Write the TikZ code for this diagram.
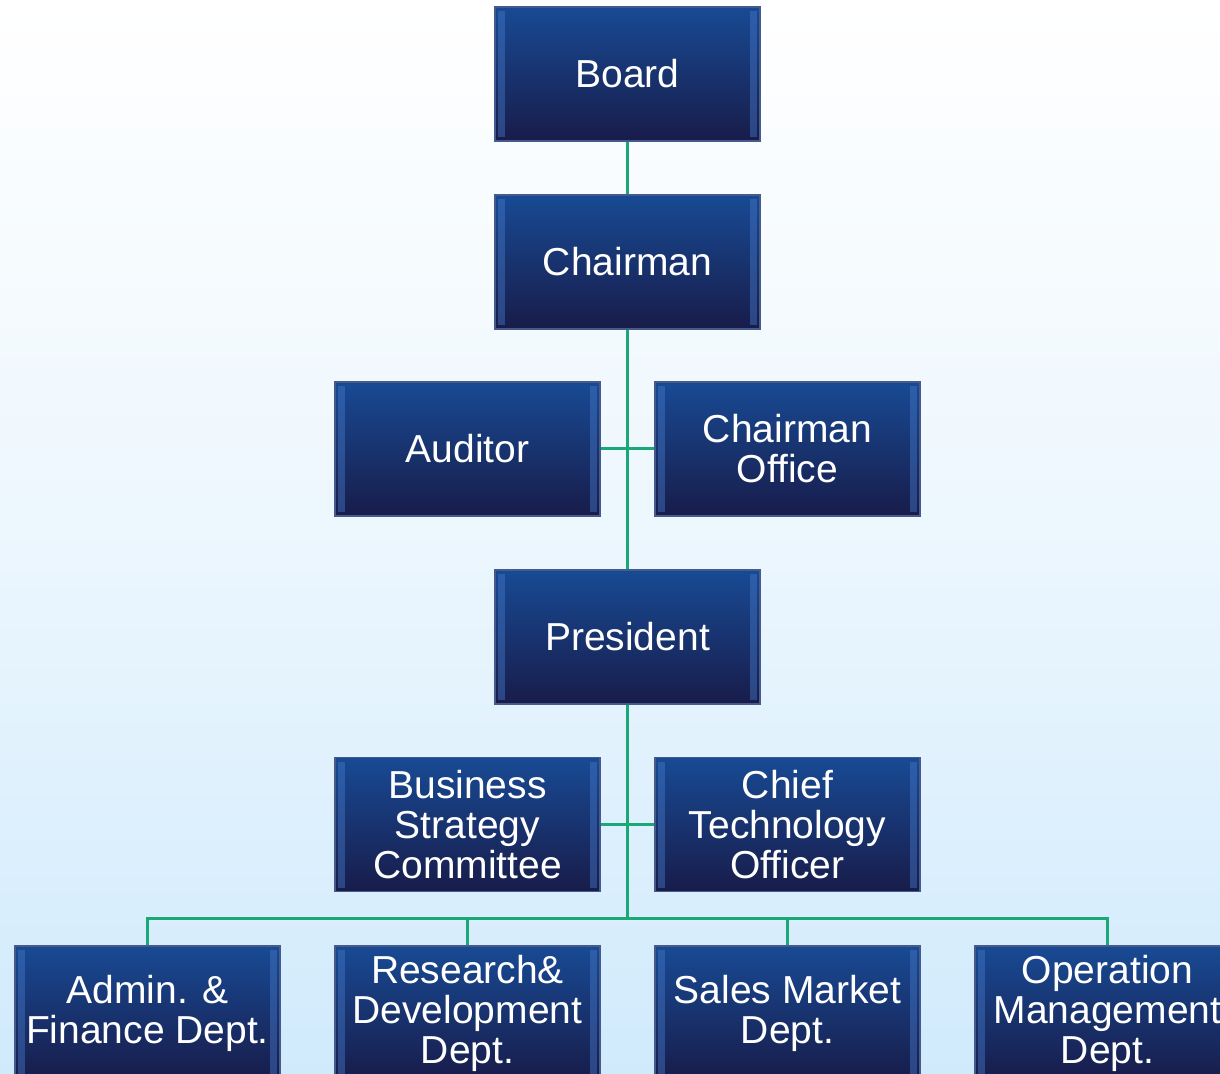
\documentclass[tikz,border=0pt]{standalone}
\usepackage{fontspec}
\setmainfont{Liberation Sans}
\usepackage{xcolor}
\definecolor{boxtop}{RGB}{24,74,148}
\definecolor{boxbot}{RGB}{24,28,74}
\definecolor{boxedge}{RGB}{70,90,140}
\definecolor{bevel}{RGB}{70,120,200}
\definecolor{linkgreen}{RGB}{28,168,118}
\definecolor{bgtop}{RGB}{255,255,255}
\definecolor{bgbot}{RGB}{208,234,252}

\begin{document}
\begin{tikzpicture}[x=0.5pt,y=-0.5pt]
  \tikzset{org box/.style={rectangle,draw=boxedge,line width=0.6pt,top color=boxtop,bottom color=boxbot,
      minimum width=132.5pt,minimum height=67pt,inner sep=1pt,align=center,text=white,
      font=\fontsize{19.5}{20}\selectfont,
      path picture={
        \fill[bevel,opacity=0.45] (path picture bounding box.north west) ++(1.5pt,-2pt)
          rectangle ([xshift=5pt,yshift=2pt]path picture bounding box.south west);
        \fill[bevel,opacity=0.45] (path picture bounding box.north east) ++(-1.5pt,-2pt)
          rectangle ([xshift=-5pt,yshift=2pt]path picture bounding box.south east);}},
    link/.style={draw=linkgreen,line width=1.5pt}}

  % background
  \fill[top color=bgtop,bottom color=bgbot,middle color=bgtop!60!bgbot] (0,0) rectangle (1220,1074);
  \useasboundingbox (0,0) rectangle (1220,1074);

  \coordinate (busL) at (147,918);
  \coordinate (busR) at (1107,918);
  \coordinate (busC) at (627,918);
  \coordinate (hubA) at (627,449);
  \coordinate (hubB) at (627,824);

  % connectors first, boxes on top
  \draw[link] (627,74) -- (hubA) -- (627,637) -- (busC);
  \draw[link] (467,449) -- (787,449);
  \draw[link] (467,824) -- (787,824);
  \draw[link] (147,1013) -- (busL) -- (busR) -- (1107,1013);
  \draw[link] (467,918) -- (467,1013);
  \draw[link] (787,918) -- (787,1013);

  \node [org box] (board) at (627.5,74) {Board};
  \node [org box] (chair) at (627.5,262) {Chairman};
  \node [org box] (audit) at (467.5,449) {Auditor};
  \node [org box] (choff) at (787.5,449) {Chairman\\Office};
  \node [org box] (pres) at (627.5,637) {President};
  \node [org box] (bsc) at (467.5,824.5) {Business\\Strategy\\Committee};
  \node [org box] (cto) at (787.5,824.5) {Chief\\Technology\\Officer};
  \node [org box] (admin) at (147.5,1013) {Admin. \&\\Finance Dept.};
  \node [org box] (rnd) at (467.5,1013) {Research\&\\Development\\Dept.};
  \node [org box] (sales) at (787.5,1013) {Sales Market\\Dept.};
  \node [org box] (oper) at (1107.5,1013) {Operation\\Management\\Dept.};
\end{tikzpicture}
\end{document}
